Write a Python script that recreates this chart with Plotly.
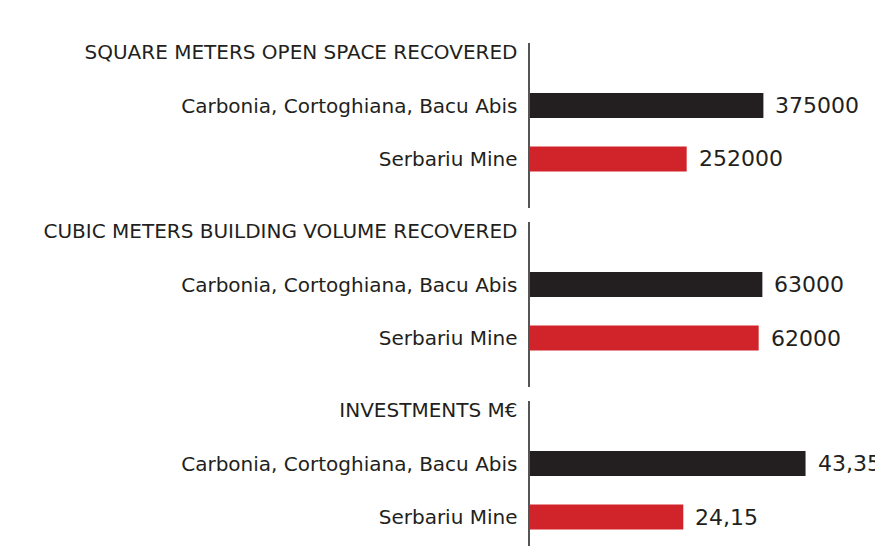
import plotly.graph_objects as go

# ---- data ----
group_titles = [
    "SQUARE METERS OPEN SPACE RECOVERED",
    "CUBIC METERS BUILDING VOLUME RECOVERED",
    "INVESTMENTS M€",
]
sites = ["Carbonia, Cortoghiana, Bacu Abis", "Serbariu Mine"]
carbonia_values = [375000, 63000, 43.35]
serbariu_values = [252000, 62000, 24.15]
carbonia_labels = ["375000", "63000", "43,35"]
serbariu_labels = ["252000", "62000", "24,15"]

# ---- style / layout ----
W, H = 875, 546
bar_colors = ["#231f20", "#d1232a"]
text_color = "#231f20"
font_family = "DejaVu Sans"
group_px = [(43, 208), (222, 387), (401, 546)]   # vertical pixel span of each group
header_offset = 9      # px from group top to header label
step = 53.5            # px between category rows
bar_px = 25
fill_frac = [0.677, 0.674, 0.799]   # longest bar as fraction of axis width
x_left = 529.5 / W

fig = go.Figure()
layout = dict(
    width=W, height=H,
    margin=dict(l=0, r=0, t=0, b=0),
    paper_bgcolor="white", plot_bgcolor="white",
    showlegend=False,
    font=dict(family=font_family, color=text_color, size=20),
    annotations=[],
)

for i in range(3):
    n = "" if i == 0 else str(i + 1)
    top, bot = group_px[i]
    cats = [group_titles[i]] + sites
    vals = [carbonia_values[i], serbariu_values[i]]
    labels = [carbonia_labels[i], serbariu_labels[i]]
    fig.add_trace(go.Bar(
        y=cats, x=[0] + vals, orientation="h",
        marker=dict(color=[bar_colors[0]] + bar_colors, line=dict(width=0)),
        width=bar_px / step,
        xaxis="x" + n, yaxis="y" + n,
        hoverinfo="skip",
    ))
    r_top = -header_offset / step
    r_bot = r_top + (bot - top) / step
    layout["yaxis" + n] = dict(
        type="category", categoryorder="array", categoryarray=cats,
        domain=[1 - bot / H, 1 - top / H],
        range=[r_bot, r_top],
        anchor="x" + n,
        showline=True, linecolor="#555555", linewidth=2,
        showgrid=False, zeroline=False, ticks="",
        ticklabelstandoff=6,
        tickfont=dict(family=font_family, size=20, color=text_color),
        automargin=False, fixedrange=True,
    )
    layout["xaxis" + n] = dict(
        domain=[x_left, 1],
        range=[0, max(vals) / fill_frac[i]],
        anchor="y" + n,
        visible=False, fixedrange=True,
    )
    for v, lab, cat in zip(vals, labels, sites):
        layout["annotations"].append(dict(
            x=v, y=cat, xref="x" + n, yref="y" + n,
            text=lab, showarrow=False, xanchor="left", yanchor="middle",
            xshift=10,
            font=dict(family=font_family, size=22, color=text_color),
        ))

fig.update_layout(**layout)
fig.write_html(
    "out.html",
    config={"displayModeBar": False},
    post_script="document.body.style.margin='0';document.body.style.overflow='hidden';",
)
